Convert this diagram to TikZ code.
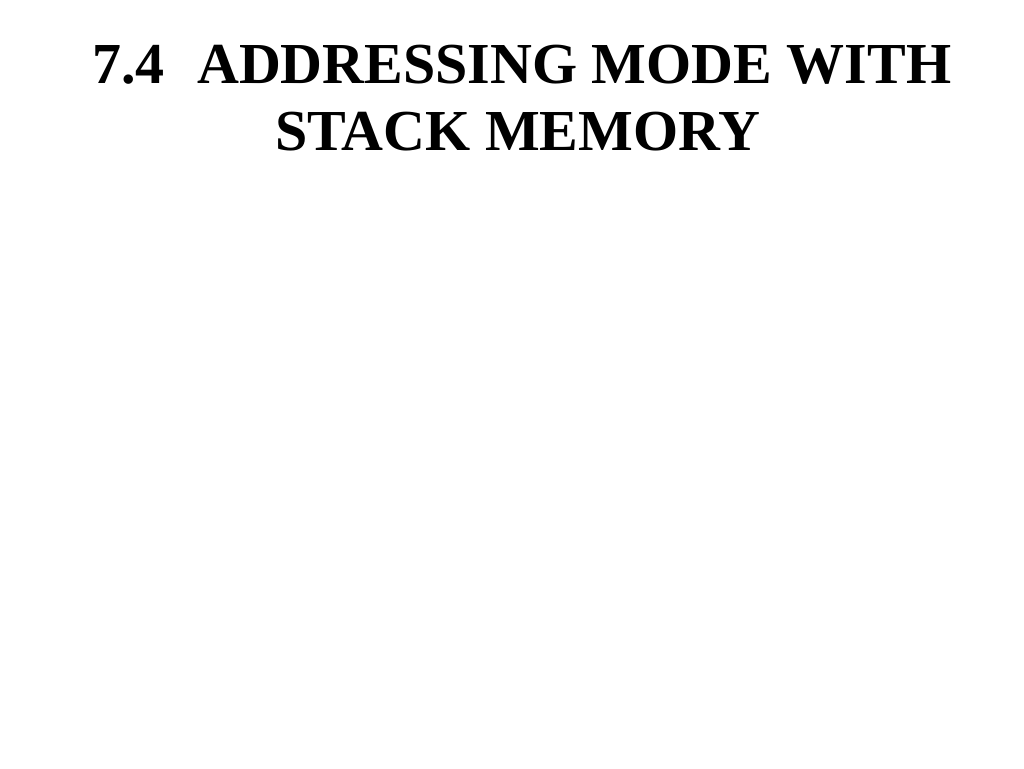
\documentclass[tikz,border=0pt]{standalone}
\usepackage{fontspec}
\setmainfont{Liberation Serif}
\begin{document}
\begin{tikzpicture}[x=1pt,y=-1pt,title/.style={inner sep=0pt,anchor=base west,font=\fontsize{58}{60}\selectfont\bfseries}]
\useasboundingbox (0,0) rectangle (1024,768);
\node[title] (num) at (92,83) {7.4};
\node[title] (l1) at (197,83) {ADDRESSING MODE WITH};
\node[title] (l2) at (275,150) {STACK MEMORY};
\end{tikzpicture}
\end{document}
